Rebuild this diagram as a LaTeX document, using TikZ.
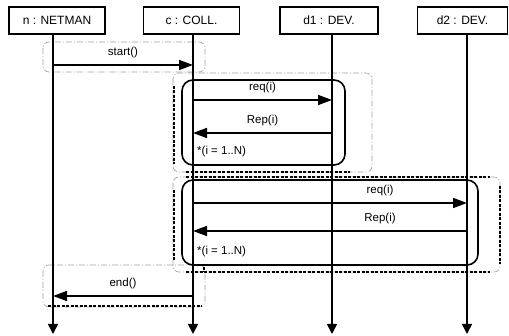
\documentclass[tikz,border=0pt]{standalone}
\usepackage{fontspec}
\setmainfont{Liberation Sans}
\usetikzlibrary{arrows.meta}
\begin{document}
\begin{tikzpicture}[x=1pt,y=-1pt,
  head/.style={draw,line width=1.6pt,minimum width=96pt,minimum height=27pt,inner sep=0pt,font=\fontsize{12}{13}\selectfont},
  life/.style={line width=1.6pt,-{Triangle[length=10pt,width=10pt]}},
  msg/.style={line width=1.6pt,-{Triangle[length=14pt,width=10pt]}},
  lbl/.style={font=\fontsize{11.5}{12}\selectfont,inner sep=0pt},
  frame/.style={draw=gray!75,line width=0.6pt,dash pattern=on 6pt off 2pt on 1pt off 2pt,rounded corners=6pt},
  heavy/.style={line width=2.4pt,dash pattern=on 3pt off 1.5pt},
  loopbox/.style={draw,line width=1.6pt,rounded corners=11pt}]
\useasboundingbox (0,0) rectangle (509,336);
% heads
\node[head] (n) at (57,20.5) {n : NETMAN};
\node[head] (c) at (191.5,20.5) {c : COLL.};
\node[head,minimum width=98pt] (d1) at (329,20.5) {d1 : DEV.};
\node[head,minimum width=90pt] (d2) at (462.5,20.5) {d2 : DEV.};
% coordinates on lifelines
\coordinate (nend) at (53,334);
\coordinate (cend) at (193,334);
\coordinate (d1end) at (332,334);
\coordinate (d2end) at (467,334);
\coordinate (ns) at (53,65); \coordinate (cs) at (193,65);
\coordinate (c1) at (193,100); \coordinate (d11) at (332,100);
\coordinate (c2) at (193,133); \coordinate (d12) at (332,133);
\coordinate (c3) at (193,203); \coordinate (d21) at (467,203);
\coordinate (c4) at (193,231); \coordinate (d22) at (467,231);
\coordinate (ce) at (193,296); \coordinate (ne) at (53,296);
% frames (thin grey)
\draw[frame] (43,42) rectangle (205,72);
\draw[frame] (173,73) rectangle (372,172);
\draw[frame] (173,177) rectangle (500,272);
\draw[frame] (43,265) rectangle (205,307);
% heavy dotted edges
\draw[heavy] (174,86) -- (174,164);
\draw[heavy] (186,172) -- (350,172);
\draw[heavy] (186,177) -- (490,177);
\draw[heavy] (174,190) -- (174,262);
\draw[heavy] (500,186) -- (500,264);
\draw[heavy] (186,272) -- (490,272);
\draw[heavy] (48,306) -- (202,306);
\draw[heavy] (204,267) -- (204,272);
% loop boxes
\draw[loopbox] (182,80) rectangle (345,165);
\draw[loopbox] (182,180) rectangle (478,265);
% lifelines
\draw[life] (n.south -| nend) -- (nend);
\draw[life] (c.south -| cend) -- (cend);
\draw[life] (d1.south -| d1end) -- (d1end);
\draw[life] (d2.south -| d2end) -- (d2end);
% messages
\draw[msg] (ns) -- node[lbl,above=6pt] (l1) {start()} (cs);
\draw[msg] (c1) -- node[lbl,above=6pt] (l2) {req(i)} (d11);
\draw[msg] (d12) -- node[lbl,above=6pt] (l3) {Rep(i)} (c2);
\node[lbl,anchor=west] (l4) at (197,152) {*(i = 1..N)};
\draw[msg] (c3) -- node[lbl,above=6pt,xshift=50pt] (l5) {req(i)} (d21);
\draw[msg] (d22) -- node[lbl,above=6pt,xshift=50pt] (l6) {Rep(i)} (c4);
\node[lbl,anchor=west] (l7) at (197,252) {*(i = 1..N)};
\draw[msg] (ce) -- node[lbl,above=6pt] (l8) {end()} (ne);
\end{tikzpicture}
\end{document}
